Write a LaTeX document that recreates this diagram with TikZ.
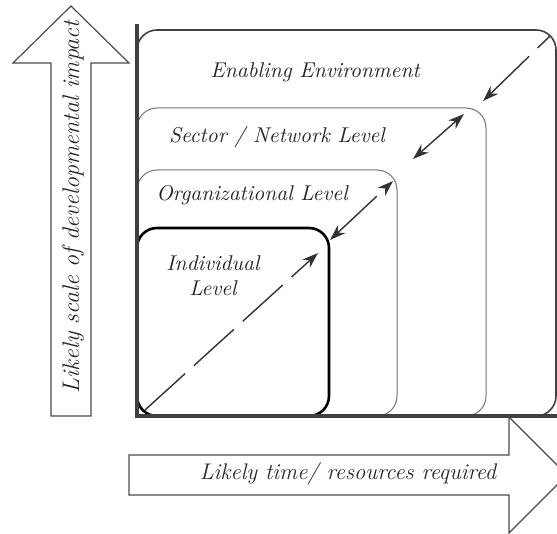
\documentclass[tikz,border=0pt]{standalone}
\usepackage{tikz}
\usetikzlibrary{positioning,arrows.meta}

\tikzset{
  lbl/.style={font=\fontsize{10.7}{12.5}\selectfont\itshape, inner sep=0pt, text=black!85},
  axlbl/.style={lbl, font=\fontsize{#1}{13}\selectfont\itshape},
  lvlbox/.style={rounded corners=10pt, draw=black!55, line width=0.5pt},
  diag/.style={draw=black!80, line width=0.7pt, dash pattern=on 27pt off 6pt},
  hd/.tip={Stealth[length=8pt, width=5.5pt]}
}

\begin{document}
\begin{tikzpicture}[x=0.5pt, y=-0.5pt]
\useasboundingbox (0,0) rectangle (557,534);
% Ebenen
\draw[lvlbox, draw=black!75, line width=0.8pt] (137,416) rectangle (556,30);
\draw[lvlbox] (137,416) rectangle (486,108);
\draw[lvlbox] (137,416) rectangle (397,170);
\draw[lvlbox, draw=black, line width=1.3pt] (137,416) rectangle (329,228);
% Achsen
\coordinate (o) at (137,416);
\coordinate (ytop) at (137,24);
\coordinate (xend) at (557,416);
\draw[black!75, line width=1.6pt] (ytop) -- (o) -- (xend);
% Pfeil oben
\draw[black!70, line width=0.6pt, fill=white] (51,416) -- (51,63) -- (13,63) -- (71,6) -- (129,63) -- (91,63) -- (91,416) -- cycle;
\node[axlbl=12, rotate=90] (impact) at (73,207) {Likely scale of developmental impact};
% Pfeil rechts
\draw[black!70, line width=0.6pt, fill=white] (129,455) -- (509,455) -- (509,417) -- (567,475) -- (509,533) -- (509,495) -- (129,495) -- cycle;
\node[axlbl=11.3] (time) at (348,474) {Likely time/ resources required};
% Beschriftungen
\node[lbl] (env) at (315,72) {Enabling Environment};
\node[lbl] (sector) at (277,137) {Sector / Network Level};
\node[lbl] (org) at (252,195) {Organizational Level};
\node[lbl, align=center] (indiv) at (213,276) {Individual\\Level};
% Diagonale
\coordinate (d0) at (145,410);
\coordinate (d1) at (318,253);
\coordinate (d2) at (330,240);
\coordinate (d3) at (393,181);
\coordinate (d4) at (413,159);
\coordinate (d5) at (464,114);
\coordinate (d6) at (483,101);
\coordinate (d7) at (550,36);
\draw[diag, -hd] (d0) -- (d1);
\draw[diag, hd-hd] (d2) -- (d3);
\draw[diag, hd-hd] (d4) -- (d5);
\draw[diag, hd-] (d6) -- (d7);
\end{tikzpicture}
\end{document}
